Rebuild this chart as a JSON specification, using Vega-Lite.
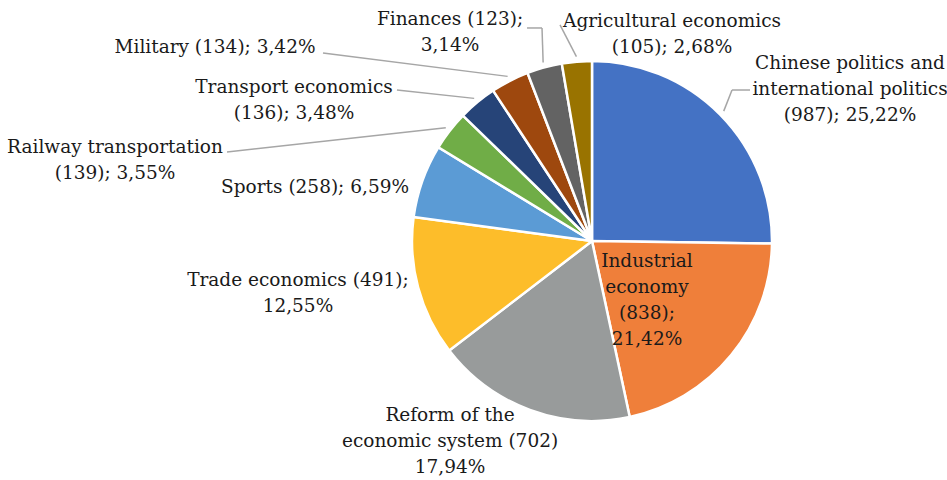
{
  "$schema": "https://vega.github.io/schema/vega-lite/v6.json",
  "width": 710,
  "height": 478,
  "autosize": {"type": "none"},
  "padding": {"left": 237, "top": 2, "right": 0, "bottom": 0},
  "background": "white",
  "config": {"view": {"stroke": null}},
  "data": {
    "values": [
      {"i": 0, "category": "Chinese politics and international politics", "count": 987, "percent": 25.22, "label": ["Chinese politics and", "international politics", "(987); 25,22%"]},
      {"i": 1, "category": "Industrial economy", "count": 838, "percent": 21.42, "label": ["Industrial", "economy", "(838);", "21,42%"]},
      {"i": 2, "category": "Reform of the economic system", "count": 702, "percent": 17.94, "label": ["Reform of the", "economic system (702)", "17,94%"]},
      {"i": 3, "category": "Trade economics", "count": 491, "percent": 12.55, "label": ["Trade economics (491);", "12,55%"]},
      {"i": 4, "category": "Sports", "count": 258, "percent": 6.59, "label": ["Sports (258); 6,59%"]},
      {"i": 5, "category": "Railway transportation", "count": 139, "percent": 3.55, "label": ["Railway transportation", "(139); 3,55%"]},
      {"i": 6, "category": "Transport economics", "count": 136, "percent": 3.48, "label": ["Transport economics", "(136); 3,48%"]},
      {"i": 7, "category": "Military", "count": 134, "percent": 3.42, "label": ["Military (134); 3,42%"]},
      {"i": 8, "category": "Finances", "count": 123, "percent": 3.14, "label": ["Finances (123);", "3,14%"]},
      {"i": 9, "category": "Agricultural economics", "count": 105, "percent": 2.68, "label": ["Agricultural economics", "(105); 2,68%"]}
    ]
  },
  "transform": [
    {"window": [{"op": "sum", "field": "count", "as": "cum"}], "sort": [{"field": "i"}], "frame": [null, 0]},
    {"joinaggregate": [{"op": "sum", "field": "count", "as": "total"}]},
    {"calculate": "2*PI*(datum.cum - datum.count/2)/datum.total", "as": "mid"},
    {"calculate": "185*sin(datum.mid)", "as": "sx"},
    {"calculate": "185*cos(datum.mid)", "as": "sy"},
    {"calculate": "datum.sx + [126.3, -88.1, -78.1, -115.3, -102.6, -330.8, -180.2, -292.6, -93.1, 95.6][datum.i]", "as": "lx"},
    {"calculate": "datum.sy + [22.1, 58.2, -26.4, -4.3, -7.8, -32.3, -1.7, 29.4, 30.6, 22.7][datum.i] + (length(datum.label) - 1) * 26 / 2", "as": "ly"},
    {"calculate": "datum.sx + [8.3, 0, 0, 0, 0, -218.8, -77.2, -184.6, -1.1, -16.4][datum.i]", "as": "e1x"},
    {"calculate": "datum.sy + [21.1, 0, 0, 0, 0, -24.3, 8.3, 23.4, 34.6, 31.7][datum.i]", "as": "e1y"},
    {"calculate": "datum.sx + [26.3, 0, 0, 0, 0, -218.8, -77.2, -184.6, -16.1, -16.4][datum.i]", "as": "e2x"},
    {"calculate": "datum.sy + [21.1, 0, 0, 0, 0, -24.3, 8.3, 23.4, 34.6, 31.7][datum.i]", "as": "e2y"}
  ],
  "layer": [
    {
      "mark": {"type": "arc", "outerRadius": 180, "stroke": "white", "strokeWidth": 2.5},
      "encoding": {
        "theta": {"field": "count", "type": "quantitative", "stack": true},
        "order": {"field": "i", "type": "quantitative"},
        "color": {
          "field": "category",
          "type": "nominal",
          "legend": null,
          "scale": {
            "domain": ["Chinese politics and international politics", "Industrial economy", "Reform of the economic system", "Trade economics", "Sports", "Railway transportation", "Transport economics", "Military", "Finances", "Agricultural economics"],
            "range": ["#4472C4", "#EF7F3A", "#989B9B", "#FDBD2A", "#5B9BD5", "#70AD47", "#264478", "#9E480E", "#636363", "#997300"]
          }
        }
      }
    },
    {
      "transform": [{"filter": "datum.i == 0 || datum.i >= 5"}],
      "mark": {"type": "rule", "stroke": "#A6A6A6", "strokeWidth": 1.5},
      "encoding": {
        "x": {"field": "sx", "type": "quantitative", "scale": {"domain": [-355, 355], "nice": false, "zero": false}, "axis": null},
        "y": {"field": "sy", "type": "quantitative", "scale": {"domain": [-239, 239], "nice": false, "zero": false}, "axis": null},
        "x2": {"field": "e1x"},
        "y2": {"field": "e1y"}
      }
    },
    {
      "transform": [{"filter": "datum.i == 0 || datum.i == 8"}],
      "mark": {"type": "rule", "stroke": "#A6A6A6", "strokeWidth": 1.5},
      "encoding": {
        "x": {"field": "e1x", "type": "quantitative", "scale": {"domain": [-355, 355], "nice": false, "zero": false}, "axis": null},
        "y": {"field": "e1y", "type": "quantitative", "scale": {"domain": [-239, 239], "nice": false, "zero": false}, "axis": null},
        "x2": {"field": "e2x"},
        "y2": {"field": "e2y"}
      }
    },
    {
      "mark": {"type": "text", "font": "DejaVu Serif", "fontSize": 18.5, "lineHeight": 26, "align": "center", "baseline": "middle", "color": "#1a1a1a"},
      "encoding": {
        "x": {"field": "lx", "type": "quantitative", "scale": {"domain": [-355, 355], "nice": false, "zero": false}, "axis": null},
        "y": {"field": "ly", "type": "quantitative", "scale": {"domain": [-239, 239], "nice": false, "zero": false}, "axis": null},
        "text": {"field": "label", "type": "nominal"}
      }
    }
  ]
}
